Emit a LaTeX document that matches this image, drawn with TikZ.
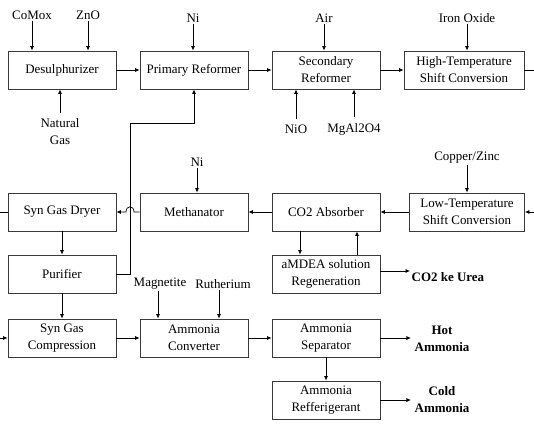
\documentclass[tikz,border=0pt]{standalone}
\usepackage{fontspec}
\setmainfont{Liberation Serif}
\usepackage{tikz}
\usetikzlibrary{arrows.meta,positioning,calc}
\definecolor{boxline}{HTML}{3A3A3A}

\tikzset{
  unit/.style={draw=boxline,line width=0.9pt,minimum width=108bp,minimum height=38bp,
    align=center,inner sep=1pt,font=\fontsize{13}{17}\selectfont},
  feed/.style={inner sep=1.5pt,align=center,font=\fontsize{13}{17}\selectfont},
  prod/.style={inner sep=1.5pt,align=center,font=\fontsize{13}{17}\selectfont\bfseries},
  flow/.style={-{Latex[length=4.5pt,width=4pt]},line width=0.7pt},
  line/.style={line width=0.7pt}
}

\begin{document}
\begin{tikzpicture}[x=1bp,y=-1bp]
  \useasboundingbox (0,0) rectangle (534,423);
  % process units
  \node[unit] (desul) at (62,70) {Desulphurizer};
  \node[unit] (prim) at (194,70) {Primary Reformer};
  \node[unit] (sec) at (326,70) {Secondary\\Reformer};
  \node[unit,minimum width=120bp] (hts) at (464,70) {High-Temperature\\Shift Conversion};
  \node[unit] (dryer) at (62,212) {Syn Gas Dryer};
  \node[unit] (meth) at (194,212) {Methanator};
  \node[unit] (absorb) at (326,212) {CO2 Absorber};
  \node[unit,minimum width=115bp] (lts) at (467,212) {Low-Temperature\\Shift Conversion};
  \node[unit] (purif) at (62,274) {Purifier};
  \node[unit] (amdea) at (326,274) {aMDEA solution\\Regeneration};
  \node[unit] (comp) at (62,338) {Syn Gas\\Compression};
  \node[unit] (conv) at (194,338) {Ammonia\\Converter};
  \node[unit] (sep) at (326,338) {Ammonia\\Separator};
  \node[unit] (refr) at (326,400) {Ammonia\\Refferigerant};

  % catalysts and feeds
  \node[feed] (comox) at (32,15) {CoMox};
  \node[feed] (zno) at (88,15) {ZnO};
  \node[feed] (ni1) at (193,18) {Ni};
  \node[feed] (air) at (324,18) {Air};
  \node[feed] (iron) at (467,18) {Iron Oxide};
  \node[feed] (gas) at (60,132) {Natural\\Gas};
  \node[feed] (nio) at (296,129) {NiO};
  \node[feed] (mgal) at (354,129) {MgAl2O4};
  \node[feed] (ni2) at (197,162) {Ni};
  \node[feed] (cuzn) at (467,158) {Copper/Zinc};
  \node[feed] (magn) at (160,284) {Magnetite};
  \node[feed] (ruth) at (223,284) {Rutherium};

  % products
  \node[prod,anchor=west] (urea) at (410,277) {CO2 ke Urea};
  \node[prod] (hot) at (442,339) {Hot\\Ammonia};
  \node[prod] (cold) at (442,400) {Cold\\Ammonia};

  % catalyst arrows
  \draw[flow] (comox.south) -- (comox.south |- desul.north);
  \draw[flow] (zno.south) -- (zno.south |- desul.north);
  \draw[flow] (ni1.south) -- (ni1.south |- prim.north);
  \draw[flow] (air.south) -- (air.south |- sec.north);
  \draw[flow] (iron.south) -- (iron.south |- hts.north);
  \draw[flow] ([yshift=4bp]gas.north) -- (gas.north |- desul.south);
  \draw[flow] ([yshift=4bp]nio.north) -- (nio.north |- sec.south);
  \draw[flow] ([yshift=4bp]mgal.north) -- (mgal.north |- sec.south);
  \draw[flow] (ni2.south) -- (ni2.south |- meth.north);
  \draw[flow] (cuzn.south) -- (cuzn.south |- lts.north);
  \draw[flow] ([xshift=-2bp]magn.south) -- ([xshift=-2bp]magn.south |- conv.north);
  \draw[flow] ([xshift=-4bp]ruth.south) -- ([xshift=-4bp]ruth.south |- conv.north);

  % main line
  \draw[flow] (desul) -- (prim);
  \draw[flow] (prim) -- (sec);
  \draw[flow] (sec) -- (hts);
  \coordinate (rimA) at (534,70);
  \draw[line] (hts.east) -- (rimA);
  \coordinate (rimB) at (534,212);
  \draw[flow] (rimB) -- (lts.east);
  \draw[flow] (lts) -- (absorb);
  \draw[flow] (absorb) -- (meth);
  \draw[flow] (meth.west) -- (134,212) .. controls (134,205) and (126,205) .. (126,212) -- (dryer.east);
  \coordinate (rimC) at (0,212);
  \draw[line] (rimC) -- (dryer.west);
  \draw[flow] (dryer) -- (purif);
  \coordinate (bend) at (130,123);
  \draw[flow] (purif.east) -| (bend) -| (prim.south);
  \draw[flow] ([xshift=-26bp]absorb.south) -- ([xshift=-26bp]amdea.north);
  \draw[flow] ([xshift=31bp]amdea.north) -- ([xshift=31bp]absorb.south);
  \draw[flow] ([yshift=3bp]amdea.east) -- ([yshift=3bp]amdea.east -| urea.west);
  \draw[flow] (purif) -- (comp);
  \coordinate (rimD) at (0,338);
  \draw[flow] (rimD) -- (comp.west);
  \draw[flow] (comp) -- (conv);
  \draw[flow] (conv) -- (sep);
  \draw[flow] (sep.east) -- ([xshift=-2bp]sep.east -| hot.west);
  \draw[flow] (sep) -- (refr);
  \draw[flow] (refr.east) -- ([xshift=-2bp]refr.east -| cold.west);
\end{tikzpicture}
\end{document}
